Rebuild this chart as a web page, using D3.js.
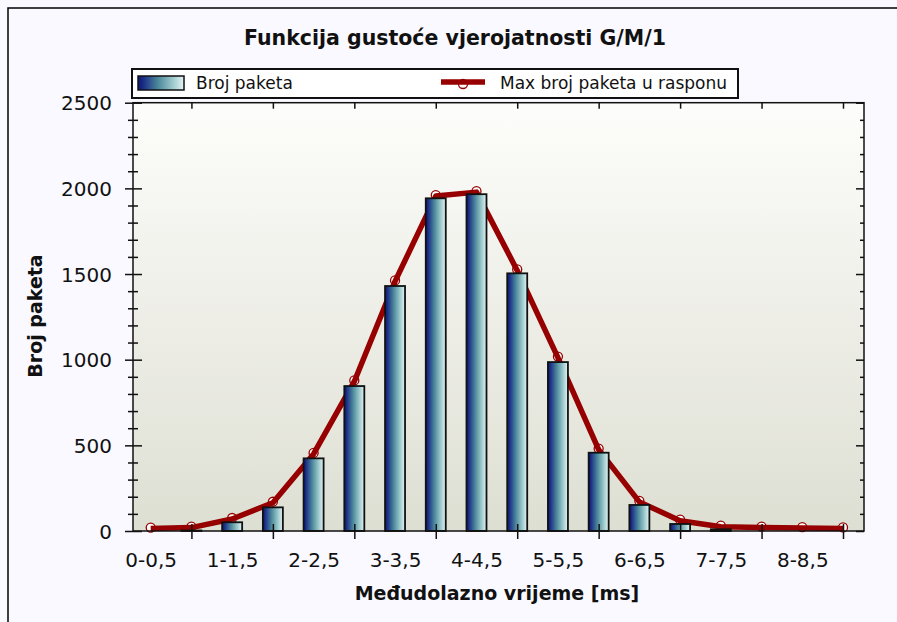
<!DOCTYPE html>
<html>
<head>
<meta charset="utf-8">
<script src="https://cdn.jsdelivr.net/npm/d3@7/dist/d3.min.js"></script>
<style>
  html, body { margin: 0; padding: 0; background: #f9f9ff; }
  svg { display: block; }
  text { font-family: "DejaVu Sans", Verdana, sans-serif; fill: #111; }
</style>
</head>
<body>
<svg id="chart" width="897" height="622"></svg>
<script>
// Inter-arrival time bins [ms]
const categories = ["0-0,5","0,5-1","1-1,5","1,5-2","2-2,5","2,5-3","3-3,5","3,5-4","4-4,5",
                    "4,5-5","5-5,5","5,5-6","6-6,5","6,5-7","7-7,5","7,5-8","8-8,5","8,5-9"];
// Packet count per bin
const brojPaketa = [0, 3, 51, 138, 424, 846, 1430, 1942, 1966, 1504, 986, 457, 152, 41, 10, 0, 0, 0];
// Max packet count within the bin range
const maxBrojPaketa = [14, 20, 70, 165, 450, 873, 1457, 1955, 1978, 1521, 1012, 475, 170, 60, 25, 20, 17, 15];
const yMajorTicks = [0, 500, 1000, 1500, 2000, 2500];
const yMinorTicks = d3.range(0, 2501, 100).filter(v => v % 500 !== 0);
const xLabelCats = categories.filter((c, i) => i % 2 === 0);
const xTickCats = categories.filter((c, i) => i % 2 === 1);

const svg = d3.select("#chart");
const plot = { left: 133, right: 864, top: 102.7, bottom: 531 };

const defs = svg.append("defs");
const barGrad = defs.append("linearGradient").attr("id", "barGrad")
  .attr("x1", 0).attr("x2", 1).attr("y1", 0).attr("y2", 0);
[[0, "#0d1670"], [0.12, "#1b2f88"], [0.45, "#4f8c9c"], [0.8, "#a9d2d4"], [1, "#e6f4f4"]]
  .forEach(([o, c]) => barGrad.append("stop").attr("offset", o).attr("stop-color", c));
const bgGrad = defs.append("linearGradient").attr("id", "bgGrad")
  .attr("x1", 0).attr("x2", 0).attr("y1", 0).attr("y2", 1);
[[0, "#fdfdfb"], [1, "#dedfd3"]]
  .forEach(([o, c]) => bgGrad.append("stop").attr("offset", o).attr("stop-color", c));

// outer frame (left and top edges)
svg.append("path").attr("d", "M8,622V8H897").attr("fill", "none")
  .attr("stroke", "#000").attr("stroke-width", 1.5);

// title
svg.append("text").attr("x", 455).attr("y", 45).attr("text-anchor", "middle")
  .attr("font-size", 20.5).attr("font-weight", "bold")
  .text("Funkcija gustoće vjerojatnosti G/M/1");

// scales
const x = d3.scalePoint().domain(categories).range([150.7, 843]);
const y = d3.scaleLinear().domain([0, 2500]).range([plot.bottom, plot.top]);
const barW = 20;

// plot background
svg.append("rect").attr("x", plot.left).attr("y", plot.top)
  .attr("width", plot.right - plot.left).attr("height", plot.bottom - plot.top)
  .attr("fill", "url(#bgGrad)");

// line series (behind the bars)
const lineColor = "#960000";
const lineGen = d3.line().x((d, i) => x(categories[i])).y(d => y(d));
svg.append("g").selectAll("circle").data(maxBrojPaketa).join("circle")
  .attr("cx", (d, i) => x(categories[i])).attr("cy", d => y(d) - 1)
  .attr("r", 4.5).attr("fill", "#fff").attr("stroke", lineColor).attr("stroke-width", 1.3);
svg.append("path").datum(maxBrojPaketa).attr("d", lineGen)
  .attr("fill", "none").attr("stroke", lineColor).attr("stroke-width", 5.5)
  .attr("stroke-linejoin", "round");

// bars
svg.append("g").selectAll("rect")
  .data(brojPaketa.map((v, i) => ({ cat: categories[i], v })).filter(d => d.v > 0))
  .join("rect")
  .attr("x", d => x(d.cat) - barW / 2).attr("y", d => y(d.v))
  .attr("width", barW).attr("height", d => y(0) - y(d.v))
  .attr("fill", "url(#barGrad)").attr("stroke", "#111").attr("stroke-width", 1.8);

// plot frame
svg.append("rect").attr("x", plot.left).attr("y", plot.top)
  .attr("width", plot.right - plot.left).attr("height", plot.bottom - plot.top)
  .attr("fill", "none").attr("stroke", "#111").attr("stroke-width", 1.5);

function styleAxis(g) {
  g.select(".domain").remove();
  g.selectAll(".tick line").attr("stroke", "#111").attr("stroke-width", 1.5);
  g.selectAll("text").attr("font-family", "DejaVu Sans").attr("fill", "#111");
}

// left axis: major ticks crossing the axis, labels
svg.append("g").attr("transform", `translate(${plot.left},0)`)
  .call(d3.axisLeft(y).tickValues(yMajorTicks).tickSize(8).tickPadding(13).tickFormat(d3.format("d")))
  .call(styleAxis)
  .call(g => g.selectAll("text").attr("font-size", 20).attr("dy", "0.36em"));
svg.append("g").attr("transform", `translate(${plot.left},0)`)
  .call(d3.axisRight(y).tickValues(yMajorTicks).tickSize(9).tickFormat(""))
  .call(styleAxis);
svg.append("g").attr("transform", `translate(${plot.left},0)`)
  .call(d3.axisLeft(y).tickValues(yMinorTicks).tickSize(5).tickFormat(""))
  .call(styleAxis);
svg.append("g").attr("transform", `translate(${plot.left},0)`)
  .call(d3.axisRight(y).tickValues(yMinorTicks).tickSize(5).tickFormat(""))
  .call(styleAxis);

// right axis: inward ticks
svg.append("g").attr("transform", `translate(${plot.right},0)`)
  .call(d3.axisLeft(y).tickValues(yMajorTicks).tickSize(8).tickFormat(""))
  .call(styleAxis);
svg.append("g").attr("transform", `translate(${plot.right},0)`)
  .call(d3.axisLeft(y).tickValues(yMinorTicks).tickSize(4).tickFormat(""))
  .call(styleAxis);

// bottom axis: ticks between labelled bins, crossing the axis
svg.append("g").attr("transform", `translate(0,${plot.bottom})`)
  .call(d3.axisBottom(x).tickValues(xTickCats).tickSize(8).tickFormat(""))
  .call(styleAxis);
svg.append("g").attr("transform", `translate(0,${plot.bottom})`)
  .call(d3.axisTop(x).tickValues(xTickCats).tickSize(7).tickFormat(""))
  .call(styleAxis);
svg.append("g").attr("transform", `translate(0,${plot.bottom})`)
  .call(d3.axisBottom(x).tickValues(xLabelCats).tickSize(0).tickPadding(22))
  .call(styleAxis)
  .call(g => g.selectAll("text").attr("font-size", 20));
// top axis: inward ticks
svg.append("g").attr("transform", `translate(0,${plot.top})`)
  .call(d3.axisBottom(x).tickValues(xTickCats).tickSize(6).tickFormat(""))
  .call(styleAxis);

// axis titles
svg.append("text").attr("x", 497).attr("y", 600).attr("text-anchor", "middle")
  .attr("font-size", 19).attr("font-weight", "bold").text("Međudolazno vrijeme [ms]");
svg.append("text").attr("transform", "translate(42,316) rotate(-90)")
  .attr("text-anchor", "middle").attr("font-size", 19).attr("font-weight", "bold")
  .text("Broj paketa");

// legend
const lg = svg.append("g");
lg.append("rect").attr("x", 132).attr("y", 69).attr("width", 606).attr("height", 29)
  .attr("fill", "#fff").attr("stroke", "#111").attr("stroke-width", 2);
lg.append("rect").attr("x", 138).attr("y", 76).attr("width", 46).attr("height", 14)
  .attr("fill", "url(#barGrad)").attr("stroke", "#111").attr("stroke-width", 1.5);
lg.append("text").attr("x", 196).attr("y", 89).attr("font-size", 17).text("Broj paketa");
lg.append("circle").attr("cx", 463).attr("cy", 84).attr("r", 4.5)
  .attr("fill", "#fff").attr("stroke", lineColor).attr("stroke-width", 1.3);
lg.append("line").attr("x1", 441).attr("x2", 485).attr("y1", 82).attr("y2", 82)
  .attr("stroke", lineColor).attr("stroke-width", 5.5);
lg.append("text").attr("x", 500).attr("y", 89).attr("font-size", 17).text("Max broj paketa u rasponu");
</script>
</body>
</html>
